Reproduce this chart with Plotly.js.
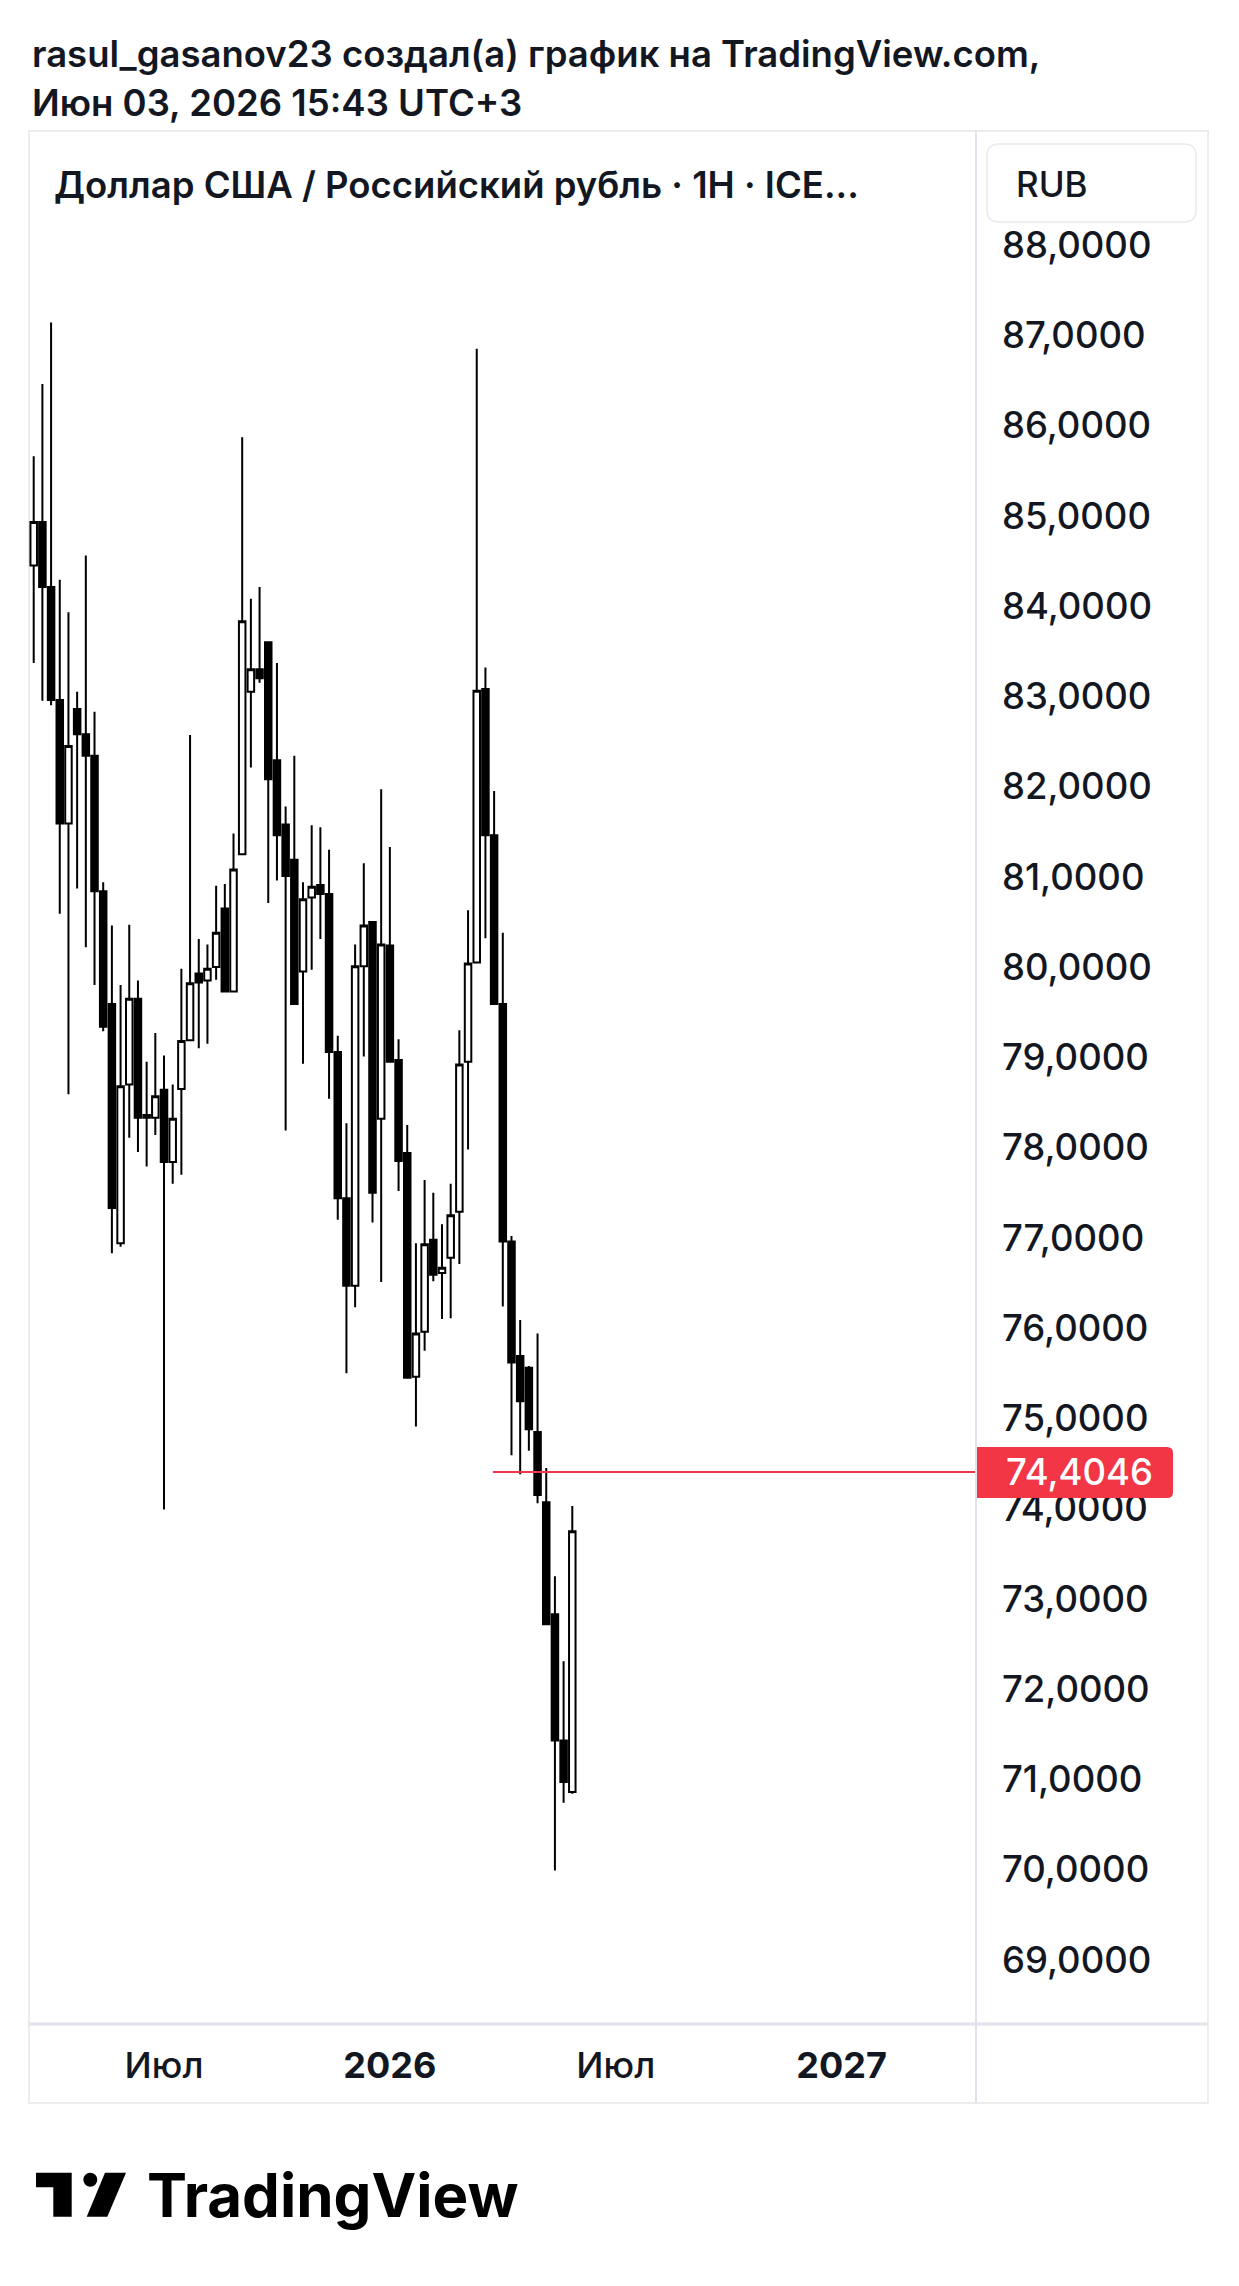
<!DOCTYPE html>
<html>
<head>
<meta charset="utf-8">
<script src="https://cdn.plot.ly/plotly-3.0.1.min.js"></script>
<style>
  html, body { margin: 0; padding: 0; background: #ffffff; }
  #chart { width: 1239px; height: 2286px; }
</style>
</head>
<body>
<div id="chart"></div>
<script>
// ---- Data (weekly candles, USD/RUB) ----
const dates = [
  '2025-03-24','2025-03-31','2025-04-07','2025-04-14','2025-04-21','2025-04-28','2025-05-05','2025-05-12',
  '2025-05-19','2025-05-26','2025-06-02','2025-06-09','2025-06-16','2025-06-23','2025-06-30','2025-07-07',
  '2025-07-14','2025-07-21','2025-07-28','2025-08-04','2025-08-11','2025-08-18','2025-08-25','2025-09-01',
  '2025-09-08','2025-09-15','2025-09-22','2025-09-29','2025-10-06','2025-10-13','2025-10-20','2025-10-27',
  '2025-11-03','2025-11-10','2025-11-17','2025-11-24','2025-12-01','2025-12-08','2025-12-15','2025-12-22',
  '2025-12-29','2026-01-05','2026-01-12','2026-01-19','2026-01-26','2026-02-02','2026-02-09','2026-02-16',
  '2026-02-23','2026-03-02','2026-03-09','2026-03-16','2026-03-23','2026-03-30','2026-04-06','2026-04-13',
  '2026-04-20','2026-04-27','2026-05-04','2026-05-11','2026-05-18','2026-05-25','2026-06-01'
];
const opens = [
  84.45,84.93,84.21,82.96,81.59,82.86,82.58,82.34,80.84,79.59,76.94,78.70,79.65,78.33,78.33,78.64,
  77.84,78.65,79.19,79.93,79.85,80.00,80.65,79.73,81.25,83.05,83.30,83.60,82.29,81.58,81.19,79.95,
  80.77,80.91,80.81,79.06,77.44,76.47,80.01,80.50,78.32,80.24,78.97,77.94,75.46,75.96,76.98,76.61,
  76.78,77.29,78.95,80.05,83.08,81.46,79.59,76.96,75.69,75.56,74.85,74.07,72.83,71.43,70.86
];
const highs = [
  85.66,86.46,87.14,84.29,83.93,83.05,84.56,82.83,80.94,80.46,79.80,80.47,79.85,78.95,79.27,79.02,
  78.70,79.98,82.57,80.31,80.25,80.90,80.92,81.48,85.87,84.08,84.21,83.60,83.37,81.78,82.34,80.94,
  81.57,81.55,81.30,79.24,78.27,80.25,81.15,80.50,81.97,81.33,79.20,78.25,76.94,77.64,77.50,77.15,
  77.60,79.30,80.63,86.85,83.32,81.95,80.38,77.02,76.09,75.58,75.94,74.45,73.25,72.31,74.03
];
const lows = [
  83.37,82.95,82.90,80.59,78.59,80.87,80.22,79.80,79.29,76.83,76.90,78.11,77.95,77.79,78.14,73.99,
  77.60,77.70,79.19,79.10,79.15,79.86,79.73,79.73,81.25,82.21,83.15,80.71,80.96,78.19,79.59,78.93,
  79.97,80.31,78.54,77.20,75.50,76.23,79.01,77.17,76.51,78.95,77.52,75.45,74.91,75.75,76.52,76.10,
  76.11,76.71,77.98,80.05,80.32,79.59,76.24,74.59,74.38,74.64,74.06,72.72,69.99,70.74,70.84
];
const closes = [
  84.93,84.21,82.96,81.59,82.45,82.58,82.34,80.84,79.34,77.33,78.68,79.65,78.33,78.36,78.57,77.84,
  78.32,79.18,79.82,79.83,79.98,80.38,79.73,81.08,83.83,83.30,83.20,82.08,81.46,81.01,79.59,80.75,
  80.89,80.81,79.06,77.44,76.47,80.01,80.46,77.50,80.25,78.95,77.85,75.45,75.94,76.93,76.59,76.67,
  77.25,78.92,80.04,83.06,81.46,79.59,76.96,75.62,75.19,74.88,74.15,72.72,71.43,70.97,73.75
];

// Axis ticks
const priceTicks = [69,70,71,72,73,74,75,76,77,78,79,80,81,82,83,84,85,86,87,88];
const timeTickVals = ['2025-07-07','2026-01-05','2026-07-06','2027-01-04'];
const timeTickText = ['Июл','<b>2026</b>','Июл','<b>2027</b>'];

// Horizontal price line (drawn ray)
const markPrice = 74.4046;
const markStart = '2026-03-29';
const xRange = ['2025-03-20 05:00','2027-04-21 12:00'];
const yRange = [68.301, 89.263];

// ---- Layout helpers (pixel -> paper) ----
const PL = 29, PT = 131, PW = 946, PH = 1892;
const px = x => (x - PL) / PW;
const py = y => 1 - (y - PT) / PH;
function rrect(x0, y0, x1, y1, r) {
  const rx = r / PW, ry = r / PH;
  const a = px(x0), b = px(x1), top = py(y0), bot = py(y1);
  return `M${a + rx},${top} L${b - rx},${top} Q${b},${top} ${b},${top - ry} ` +
         `L${b},${bot + ry} Q${b},${bot} ${b - rx},${bot} L${a + rx},${bot} ` +
         `Q${a},${bot} ${a},${bot + ry} L${a},${top - ry} Q${a},${top} ${a + rx},${top} Z`;
}
const fmt = v => v.toFixed(4).replace('.', ',');

const INK = '#131722';
const RED = '#f23645';
const FONT = 'Inter, "Noto Sans", Roboto, sans-serif';

const trace = {
  type: 'candlestick',
  x: dates, open: opens, high: highs, low: lows, close: closes,
  increasing: { line: { color: '#000000', width: 2 }, fillcolor: '#ffffff' },
  decreasing: { line: { color: '#000000', width: 2 }, fillcolor: '#000000' },
  whiskerwidth: 0,
  hoverinfo: 'skip',
  showlegend: false
};

const shapes = [
  // outer frame
  { type: 'rect', xref: 'paper', yref: 'paper', x0: px(29), x1: px(1208), y0: py(2103), y1: py(131),
    line: { color: '#ececec', width: 2 }, layer: 'below' },
  // vertical divider (price scale)
  { type: 'line', xref: 'paper', yref: 'paper', x0: px(976), x1: px(976), y0: py(2103), y1: py(131),
    line: { color: '#e0e3eb', width: 2 }, layer: 'below' },
  // horizontal divider (time scale)
  { type: 'line', xref: 'paper', yref: 'paper', x0: px(29), x1: px(1208), y0: py(2024), y1: py(2024),
    line: { color: '#e0e3eb', width: 3 }, layer: 'below' },
  // RUB box
  { type: 'path', xref: 'paper', yref: 'paper', path: rrect(987, 144, 1196, 222, 12),
    line: { color: '#eaeaea', width: 1.5 }, fillcolor: '#ffffff', layer: 'above' },
  // red horizontal ray
  { type: 'line', xref: 'x', yref: 'y', x0: markStart, x1: xRange[1], y0: markPrice, y1: markPrice,
    line: { color: RED, width: 2 }, layer: 'above' },
  // red price label box
  { type: 'path', xref: 'paper', yref: 'paper', path: (function () {
      const yc = 245 + (88 - markPrice) * 90.26;
      const t = yc - 25, b = yc + 26, x0 = 977, x1 = 1173, r = 6;
      const rx = r / PW, ry = r / PH;
      return `M${px(x0)},${py(t)} L${px(x1) - rx},${py(t)} Q${px(x1)},${py(t)} ${px(x1)},${py(t) - ry} ` +
             `L${px(x1)},${py(b) + ry} Q${px(x1)},${py(b)} ${px(x1) - rx},${py(b)} L${px(x0)},${py(b)} Z`;
    })(),
    line: { width: 0 }, fillcolor: RED, layer: 'above' },
  // TradingView logo mark
  { type: 'path', xref: 'paper', yref: 'paper',
    path: `M${px(36)},${py(2172.7)} L${px(71.7)},${py(2172.7)} L${px(71.7)},${py(2216.7)} L${px(53.3)},${py(2216.7)} L${px(53.3)},${py(2187.3)} L${px(36)},${py(2187.3)} Z`,
    line: { width: 0 }, fillcolor: '#000000', layer: 'above' },
  { type: 'circle', xref: 'paper', yref: 'paper', x0: px(83.3), x1: px(97.3), y0: py(2186.7), y1: py(2172.7),
    line: { width: 0 }, fillcolor: '#000000', layer: 'above' },
  { type: 'path', xref: 'paper', yref: 'paper',
    path: `M${px(105)},${py(2172.7)} L${px(126)},${py(2172.7)} L${px(107.3)},${py(2216.7)} L${px(86.7)},${py(2216.7)} Z`,
    line: { width: 0 }, fillcolor: '#000000', layer: 'above' }
];

const annotations = [
  { xref: 'paper', yref: 'paper', x: px(30), y: py(53.5), xanchor: 'left', yanchor: 'middle',
    text: 'rasul_gasanov23 создал(а) график на TradingView.com,', showarrow: false,
    font: { family: FONT, size: 36.5, weight: 600, color: INK } },
  { xref: 'paper', yref: 'paper', x: px(30), y: py(103.5), xanchor: 'left', yanchor: 'middle',
    text: 'Июн 03, 2026 15:43 UTC+3', showarrow: false,
    font: { family: FONT, size: 36.5, weight: 600, color: INK } },
  { xref: 'paper', yref: 'paper', x: px(52), y: py(185), xanchor: 'left', yanchor: 'middle',
    text: 'Доллар США / Российский рубль · 1Н · ICE...', showarrow: false,
    font: { family: FONT, size: 36.5, weight: 600, color: INK } },
  { xref: 'paper', yref: 'paper', x: px(1014), y: py(184), xanchor: 'left', yanchor: 'middle',
    text: 'RUB', showarrow: false,
    font: { family: FONT, size: 35, weight: 500, color: INK } },
  { xref: 'paper', yref: 'y', x: px(1004), y: markPrice, xanchor: 'left', yanchor: 'middle',
    text: fmt(markPrice), showarrow: false,
    font: { family: FONT, size: 36.5, weight: 500, color: '#ffffff' } },
  { xref: 'paper', yref: 'paper', x: px(145), y: py(2195), xanchor: 'left', yanchor: 'middle',
    text: '<b>TradingView</b>', showarrow: false,
    font: { family: FONT, size: 60, weight: 700, color: '#000000' } }
];

const layout = {
  width: 1239, height: 2286,
  margin: { l: PL, r: 1239 - 975, t: PT, b: 2286 - 2023, pad: 0 },
  paper_bgcolor: '#ffffff', plot_bgcolor: '#ffffff',
  font: { family: FONT, color: INK },
  showlegend: false,
  boxgap: 0.25,
  boxgroupgap: 0,
  xaxis: {
    type: 'date', range: xRange,
    tickvals: timeTickVals, ticktext: timeTickText,
    tickfont: { family: FONT, size: 36, weight: 500, color: INK },
    ticks: '', ticklabelstandoff: 18,
    showgrid: false, zeroline: false, showline: false,
    rangeslider: { visible: false }, fixedrange: true
  },
  yaxis: {
    side: 'right', range: yRange,
    tickvals: priceTicks, ticktext: priceTicks.map(fmt),
    tickfont: { family: FONT, size: 36.5, weight: 500, color: INK },
    ticks: '', ticklabelstandoff: 26,
    showgrid: false, zeroline: false, showline: false, fixedrange: true
  },
  shapes: shapes,
  annotations: annotations
};

Plotly.newPlot('chart', [trace], layout, { displayModeBar: false, staticPlot: true });
</script>
</body>
</html>
